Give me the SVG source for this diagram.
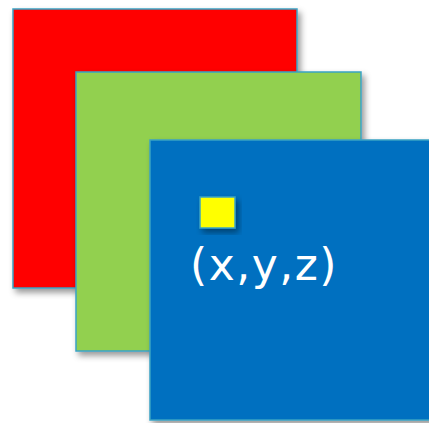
<svg xmlns="http://www.w3.org/2000/svg" width="429" height="423" viewBox="0 0 429 423">
<defs>
<filter id="sh" x="-10%" y="-10%" width="130%" height="130%">
<feDropShadow dx="3" dy="4" stdDeviation="3" flood-color="#000" flood-opacity="0.4"/>
</filter>
</defs>
<style>
.sq{stroke:#3BA3C4;stroke-width:1.5;filter:url(#sh)}
.lbl{font-family:"DejaVu Sans",Verdana,sans-serif;font-size:44px;letter-spacing:1.5px;fill:#fff}
</style>
<rect width="429" height="423" fill="#fff"/>
<g id="red"><rect class="sq" x="13" y="9" width="284" height="279" fill="#FF0000"/></g>
<g id="green"><rect class="sq" x="76" y="72" width="285" height="279" fill="#92D050"/></g>
<g id="blue"><rect class="sq" x="150" y="140" width="285" height="280" fill="#0070C0"/></g>
<g id="point"><rect class="sq" x="200" y="197" width="35" height="31" fill="#FFFF00"/></g>
<g id="label"><text class="lbl" x="190" y="280">(x,y,z)</text></g>
<g id="connectors"/>
</svg>
